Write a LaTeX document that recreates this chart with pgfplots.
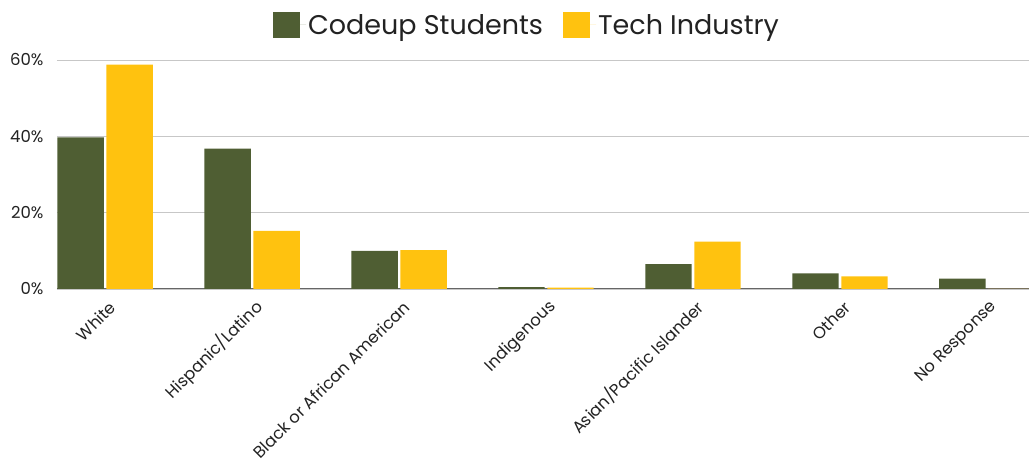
\documentclass[border=0pt]{standalone}
\usepackage{fontspec}
\setmainfont{Poppins}
\usepackage{pgfplots}
\pgfplotsset{compat=1.18}
\definecolor{cgreen}{HTML}{4F5E33}
\definecolor{cyellow}{HTML}{FFC20F}
\definecolor{ctext}{HTML}{222222}
\begin{document}
\begin{tikzpicture}
\begin{axis}[
  scale only axis, width=972pt, height=229pt,
  xmin=-0.327, xmax=6.286, ymin=0, ymax=60,
  bar width=0.316,
  axis line style={draw=none},
  ytick={0,20,40,60},
  yticklabel={\pgfmathprintnumber{\tick}\%},
  ymajorgrids, grid style={color=black!22, line width=0.8pt},
  extra y ticks={0}, extra y tick labels={},
  extra y tick style={grid style={color=black!60, line width=1pt}},
  major tick length=0pt,
  tick style={draw=none},
  /pgf/number format/assume math mode=true,
  yticklabel style={font=\fontsize{16.5}{19}\selectfont, text=ctext, xshift=-10pt},
  xtick={0,...,6},
  xticklabels={White,Hispanic/Latino,Black or African American,Indigenous,Asian/Pacific Islander,Other,No Response},
  xticklabel style={font=\fontsize{16.5}{19}\selectfont, text=ctext, xshift=9pt, yshift=-14pt, rotate=45, anchor=east, inner sep=2pt},
  legend style={draw=none, fill=none, at={(0.4835,1.153)}, anchor=center,
    legend columns=2, font=\fontsize{27}{30}\selectfont, text=ctext,
    /tikz/every even column/.append style={column sep=18pt}},
  legend image code/.code={\fill[#1] (0pt,-13pt) rectangle (27pt,13pt); \path (0pt,0pt) -- (33pt,0pt);},
]
\addplot[ybar, fill=cgreen, draw=none, bar shift=-0.1667] coordinates {(0,39.7) (1,36.8) (2,10.0) (3,0.5) (4,6.5) (5,4.1) (6,2.7)};
\addlegendentry{Codeup Students}
\addplot[ybar, fill=cyellow, draw=none, bar shift=0.1667] coordinates {(0,58.8) (1,15.2) (2,10.2) (3,0.35) (4,12.4) (5,3.3) (6,0)};
\addlegendentry{Tech Industry}
\end{axis}
\pgfresetboundingbox
\useasboundingbox (-57pt,-173pt) rectangle (972pt,289pt);
\end{tikzpicture}
\end{document}
